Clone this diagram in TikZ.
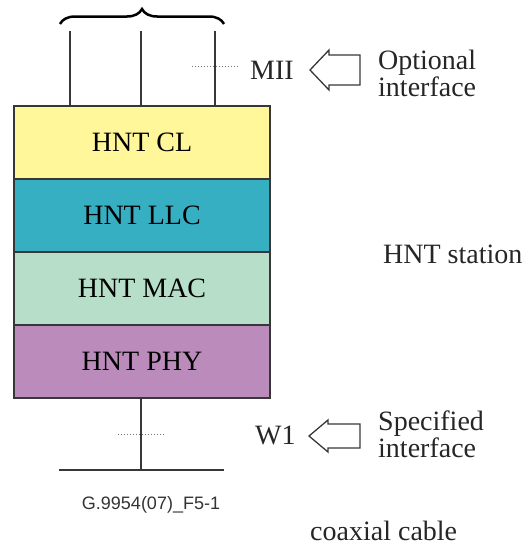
\documentclass[tikz,border=0pt]{standalone}
\usepackage{fontspec}
\setmainfont{Liberation Serif}
\newfontfamily\figfont{Liberation Sans}
\usetikzlibrary{decorations.pathreplacing}
\definecolor{clyellow}{RGB}{255,247,153}
\definecolor{llcteal}{RGB}{55,175,195}
\definecolor{macgreen}{RGB}{182,222,200}
\definecolor{phypurple}{RGB}{187,140,187}
\definecolor{edgegray}{RGB}{55,55,55}
\tikzset{
  layer/.style={draw=edgegray, line width=1.5pt, minimum width=256pt, minimum height=73pt, inner sep=0pt, font=\fontsize{28}{30}\selectfont},
  wire/.style={draw=edgegray, line width=1.5pt},
  dots/.style={dotted, draw=black!55, line width=1pt},
  hollow/.style={draw=edgegray, line width=1.3pt, line join=miter},
  txt/.style={font=\fontsize{28}{27}\selectfont, align=left, anchor=west, inner sep=0pt, text=black!85}
}
\begin{document}
\begin{tikzpicture}[x=1pt,y=-1pt]
    \useasboundingbox (0,0) rectangle (525,546);
    % Strati
    \node [layer, fill=clyellow] (cl) at (142,142.5) {HNT CL};
    \node [layer, fill=llcteal] (llc) at (142,215.5) {HNT LLC};
    \node [layer, fill=macgreen] (mac) at (142,288.5) {HNT MAC};
    \node [layer, fill=phypurple] (phy) at (142,361.5) {HNT PHY};
    % Linee sopra
    \coordinate (t1) at (70,31);
    \coordinate (t2) at (141,31);
    \coordinate (t3) at (215,31);
    \draw [wire] (t1) -- (t1 |- cl.north);
    \draw [wire] (t2) -- (t2 |- cl.north);
    \draw [wire] (t3) -- (t3 |- cl.north);
    \coordinate (b1) at (60,24);
    \coordinate (b2) at (224,24);
    \draw [decorate, decoration={brace, amplitude=15pt}, line width=2.5pt] (b1) -- (b2);
    % MII
    \coordinate (m1) at (192,66);
    \coordinate (m2) at (238,66);
    \draw [dots] (m1) -- (m2);
    \node [txt] (mii) at (250,70) {MII};
    \coordinate (am) at (310,70);
    \draw [hollow] (am) -- ++(19,-20) -- ++(0,5) -- ++(31,0) -- ++(0,30) -- ++(-31,0) -- ++(0,5) -- cycle;
    \node [txt] (opt) at (378,73) {Optional\\interface};
    % Stazione
    \node [txt] (hnt) at (383,254) {HNT station};
    % Cavo
    \coordinate (c1) at (59,470);
    \coordinate (c2) at (224,470);
    \coordinate (cm) at (141,470);
    \draw [wire] (phy.south -| cm) -- (cm);
    \draw [wire] (c1) -- (c2);
    \coordinate (w1a) at (118,434);
    \coordinate (w1b) at (165,434);
    \draw [dots] (w1a) -- (w1b);
    % W1
    \node [txt] (w1) at (255,435) {W1};
    \coordinate (aw) at (309,436);
    \draw [hollow] (aw) -- ++(19,-16) -- ++(0,4) -- ++(32,0) -- ++(0,24) -- ++(-32,0) -- ++(0,4) -- cycle;
    \node [txt] (spec) at (378,434) {Specified\\interface};
    % Didascalie
    \node [font=\figfont\fontsize{18}{20}\selectfont, text=black!80, inner sep=0pt] (fig) at (151,505) {G.9954(07)\_F5-1};
    \node [txt] (coax) at (310,531) {coaxial cable};
\end{tikzpicture}
\end{document}
